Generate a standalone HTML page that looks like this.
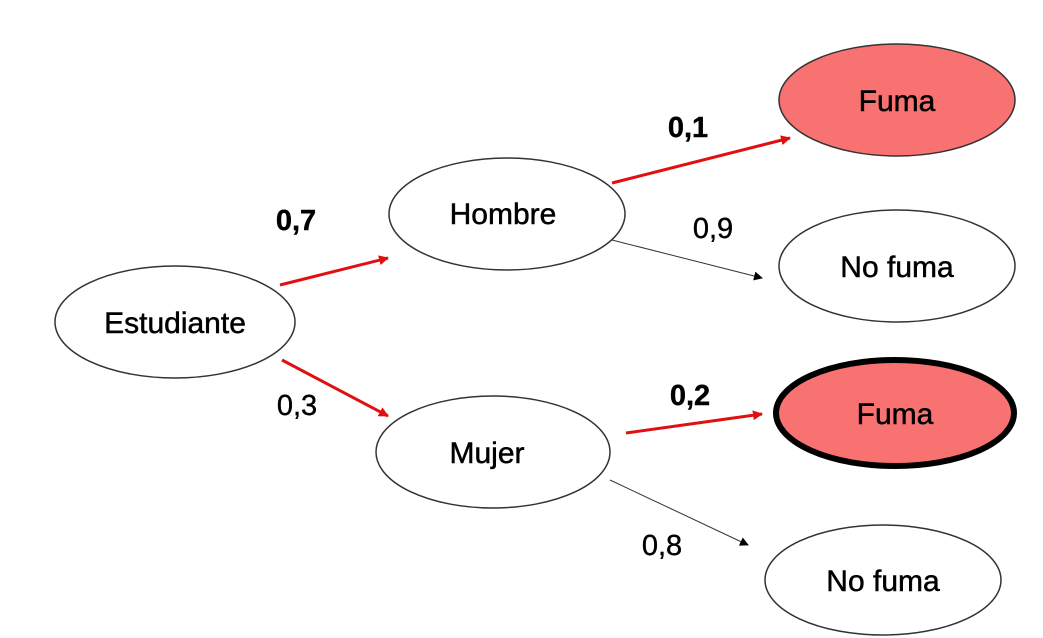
<!DOCTYPE html>
<html><head><meta charset="utf-8"><style>
html,body{margin:0;padding:0;background:#fff;}
svg{display:block;}
text{font-family:"Liberation Sans",sans-serif;}
</style></head><body>
<svg width="1043" height="638" viewBox="0 0 1043 638" xmlns="http://www.w3.org/2000/svg">
<defs>
<marker id="ar" markerWidth="10" markerHeight="10" refX="9" refY="5" orient="auto" markerUnits="userSpaceOnUse"><path d="M0,0 L10,5 L0,10 z" fill="#e01010"/></marker>
<marker id="ab" markerWidth="9" markerHeight="9" refX="8" refY="4.5" orient="auto" markerUnits="userSpaceOnUse"><path d="M0,0 L9,4.5 L0,9 z" fill="#000"/></marker>
</defs>
<g fill="#fff" stroke="#333" stroke-width="1.5">
<ellipse cx="175" cy="322" rx="120" ry="56"/>
<ellipse cx="507" cy="214" rx="118" ry="56"/>
<ellipse cx="493" cy="452" rx="117" ry="56"/>
<ellipse cx="897" cy="266" rx="118" ry="56"/>
<ellipse cx="883" cy="580" rx="118" ry="55"/>
<ellipse cx="897" cy="100" rx="118" ry="56" fill="#f87272"/>
</g>
<ellipse cx="895" cy="413" rx="119" ry="53" fill="#f87272" stroke="#000" stroke-width="6"/>
<g stroke="#e01010" stroke-width="3" fill="none">
<line x1="280" y1="285" x2="388" y2="258" marker-end="url(#ar)"/>
<line x1="282" y1="360" x2="388" y2="416" marker-end="url(#ar)"/>
<line x1="612" y1="183" x2="790" y2="138" marker-end="url(#ar)"/>
<line x1="626" y1="433" x2="762" y2="414" marker-end="url(#ar)"/>
</g>
<g stroke="#333" stroke-width="1" fill="none">
<line x1="612" y1="240" x2="762" y2="278" marker-end="url(#ab)"/>
<line x1="610" y1="480" x2="748" y2="545" marker-end="url(#ab)"/>
</g>
<g font-size="30" text-anchor="middle" fill="#000" stroke="#000" stroke-width="0.5">
<text x="175" y="333">Estudiante</text>
<text x="503" y="224">Hombre</text>
<text x="487" y="463">Mujer</text>
<text x="897" y="111">Fuma</text>
<text x="897" y="277">No fuma</text>
<text x="895" y="424">Fuma</text>
<text x="883" y="591">No fuma</text>
</g>
<g font-size="29" text-anchor="middle" fill="#000" stroke="#000" stroke-width="0.4">
<text x="296" y="230" font-weight="bold">0,7</text>
<text x="297" y="415">0,3</text>
<text x="688" y="137" font-weight="bold">0,1</text>
<text x="713" y="238">0,9</text>
<text x="690" y="405" font-weight="bold">0,2</text>
<text x="662" y="555">0,8</text>
</g>
</svg>
</body></html>
